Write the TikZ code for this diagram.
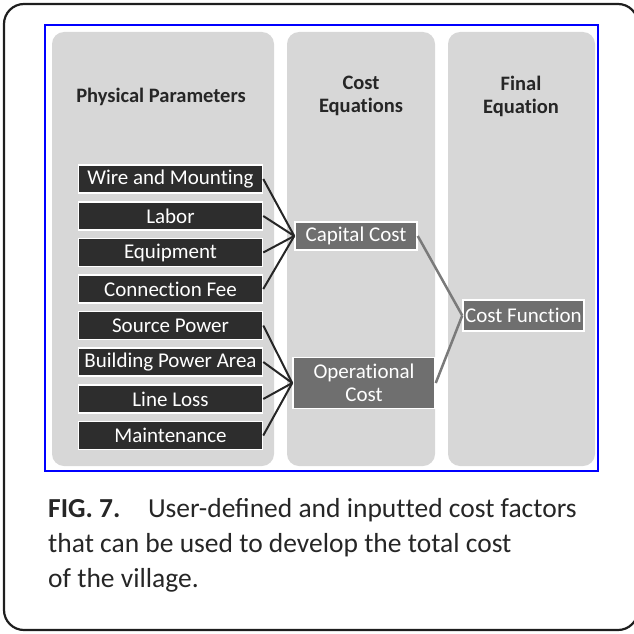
\documentclass[tikz,border=0pt]{standalone}
\usepackage{fontspec}
\setmainfont{Carlito}
\newfontfamily\diagfont{Carlito}[Ligatures=NoCommon]

\definecolor{panelgray}{HTML}{D7D7D7}
\definecolor{paramdark}{HTML}{2D2D2D}
\definecolor{costgray}{HTML}{6F6F6F}
\definecolor{linkgray}{HTML}{7A7A7A}
\definecolor{framecol}{HTML}{1E1E1E}

\tikzset{
    panel/.style={fill=panelgray, rounded corners=12pt},
    heading/.style={font=\diagfont\bfseries\fontsize{20.5}{23}\selectfont, align=center, text=black!85},
    param/.style={fill=paramdark, draw=white, line width=1.5pt, text=white,
        minimum width=184pt, minimum height=28pt, inner sep=0pt,
        font=\diagfont\fontsize{21}{22}\selectfont},
    cost/.style={fill=costgray, draw=white, line width=1.5pt, text=white,
        inner sep=0pt, align=center, font=\diagfont\fontsize{21}{23}\selectfont},
    feed/.style={line width=2pt, draw=black!85},
    merge/.style={line width=2.5pt, draw=linkgray},
    caption/.style={anchor=base west, inner sep=0pt, text=black!85,
        font=\fontsize{27.5}{35}\selectfont}
}

\begin{document}
\begin{tikzpicture}[x=1pt, y=-1pt]
    \useasboundingbox (0,0) rectangle (634,634);
    %% Outer frame and figure box
    \draw[line width=2.2pt, framecol, rounded corners=20pt] (4,4) rectangle (638,630);
    \draw[line width=1.5pt, blue] (45,25) rectangle (598,471);
    %% Columns
    \fill[panel] (52,32) rectangle (274,466);
    \fill[panel] (287,32) rectangle (435,466);
    \fill[panel] (448,32) rectangle (595,466);
    %% Headings
    \node[heading] (hphys) at (161,97) {Physical Parameters};
    \node[heading] (hcost) at (361,96) {Cost\\Equations};
    \node[heading] (hfinal) at (521,96) {Final\\Equation};
    %% Parameters
    \node[param] (wire) at (170.5,179) {Wire and Mounting};
    \node[param] (labor) at (170.5,216) {Labor};
    \node[param] (equip) at (170.5,252.5) {Equipment};
    \node[param] (fee) at (170.5,289) {Connection Fee};
    \node[param] (source) at (170.5,325.5) {Source Power};
    \node[param] (area) at (170.5,362) {Building Power Area};
    \node[param] (loss) at (170.5,399) {Line Loss};
    \node[param] (maint) at (170.5,435.5) {Maintenance};
    %% Cost equations
    \node[cost, minimum width=122pt, minimum height=28pt] (capital) at (356,236) {Capital Cost};
    \node[cost, minimum width=142pt, minimum height=51pt] (oper) at (364,383) {Operational\\Cost};
    \node[cost, minimum width=121pt, minimum height=31pt] (func) at (523.5,315.5) {Cost Function};
    %% Links
    \foreach \p in {wire,labor,equip,fee}
        \draw[feed] (\p.east) -- (capital.west);
    \foreach \p in {source,area,loss,maint}
        \draw[feed] (\p.east) -- (oper.west);
    \draw[merge] (capital.east) -- (func.west);
    \draw[merge] (oper.east) -- (func.west);
    %% Caption
    \node[caption] (cap1) at (48,517) {\textbf{FIG. 7.}\hspace{1em}User-defined and input\kern0pt ted cost factors};
    \node[caption] (cap2) at (48,552) {that can be used to develop the total cost};
    \node[caption] (cap3) at (48,587) {of the village.};
\end{tikzpicture}
\end{document}
